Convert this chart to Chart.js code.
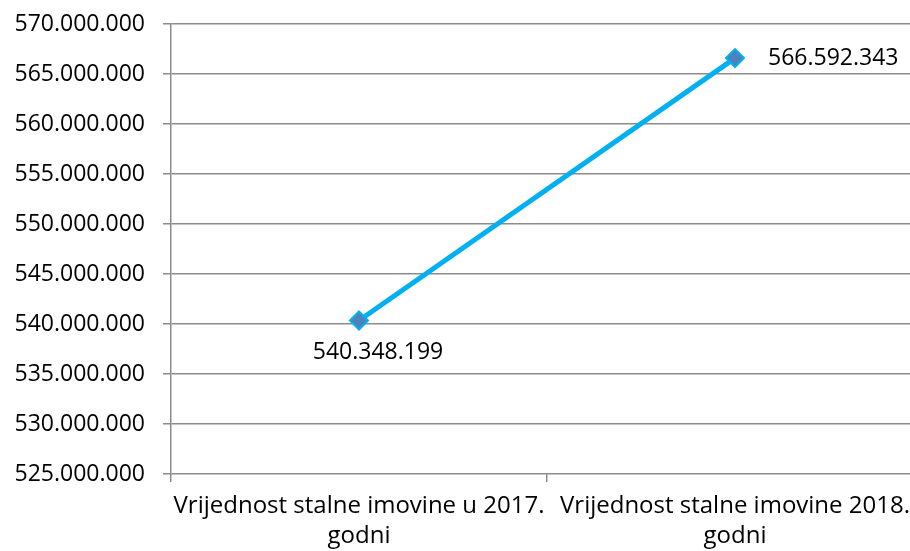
<!DOCTYPE html>
<html>
<head>
<meta charset="utf-8">
<script src="https://cdn.jsdelivr.net/npm/chart.js@4"></script>
<style>
    html, body { margin: 0; padding: 0; background: #fff; overflow: hidden; }
</style>
</head>
<body>
<canvas id="chart" width="923" height="551"></canvas>
<script>
// categories and values
let categories = [
    ['Vrijednost stalne imovine u 2017.', 'godni'],
    ['Vrijednost stalne imovine 2018.', 'godni']
];
let values = [540348199, 566592343];
let yMin = 525000000;
let yMax = 570000000;
let yStep = 5000000;

const fmt = v => Math.round(v).toString().replace(/\B(?=(\d{3})+(?!\d))/g, '.');

// value labels next to the points (below for the first, right for the second)
const valueLabels = {
    id: 'valueLabels',
    afterDatasetsDraw(chart) {
        let c = chart.ctx;
        let pts = chart.getDatasetMeta(0).data;
        c.save();
        c.font = '23px "Open Sans"';
        c.fillStyle = '#000';
        c.textBaseline = 'middle';
        pts.forEach((p, i) => {
            if (i === 0) {
                c.textAlign = 'center';
                c.fillText(fmt(values[i]), p.x + 19, p.y + 32);
            } else {
                c.textAlign = 'left';
                c.fillText(fmt(values[i]), p.x + 33, p.y);
            }
        });
        c.restore();
    }
};

var ctx = document.getElementById('chart').getContext('2d');
var myChart = new Chart(ctx, {
    type: 'line',
    data: {
        labels: categories,
        datasets: [{
            data: values,
            borderColor: '#00B0F0',
            borderWidth: 5,
            pointStyle: 'rectRot',
            pointRadius: 9,
            pointBorderWidth: 2,
            pointBackgroundColor: '#4F81BD',
            pointBorderColor: '#00B0F0',
            tension: 0
        }]
    },
    options: {
        responsive: false,
        animation: false,
        layout: { autoPadding: false, padding: { top: 24, left: 0, right: 0, bottom: 0 } },
        plugins: {
            legend: { display: false },
            tooltip: { enabled: false }
        },
        scales: {
            x: {
                offset: true,
                grid: {
                    offset: true,
                    drawOnChartArea: false,
                    drawTicks: true,
                    tickLength: 8,
                    color: '#8c8c8c',
                    lineWidth: 1.5
                },
                border: { display: false },
                ticks: {
                    autoSkip: false,
                    color: '#000',
                    font: { family: 'Open Sans', size: 24, lineHeight: 1.25 },
                    maxRotation: 0,
                    padding: 9
                },
                afterFit(scale) {
                    scale.height = 77;
                    scale.paddingLeft = 0;
                    scale.paddingRight = 0;
                }
            },
            y: {
                min: yMin,
                max: yMax,
                grid: {
                    color: '#8c8c8c',
                    lineWidth: 1.5,
                    tickLength: 8
                },
                border: { color: '#8c8c8c', width: 1.5 },
                ticks: {
                    stepSize: yStep,
                    color: '#000',
                    font: { family: 'Open Sans', size: 23 },
                    padding: 18,
                    callback: v => fmt(v)
                },
                afterFit(scale) {
                    scale.width = 171;
                    scale.paddingTop = 0;
                    scale.paddingBottom = 0;
                }
            }
        }
    },
    plugins: [valueLabels]
});
</script>
</body>
</html>
